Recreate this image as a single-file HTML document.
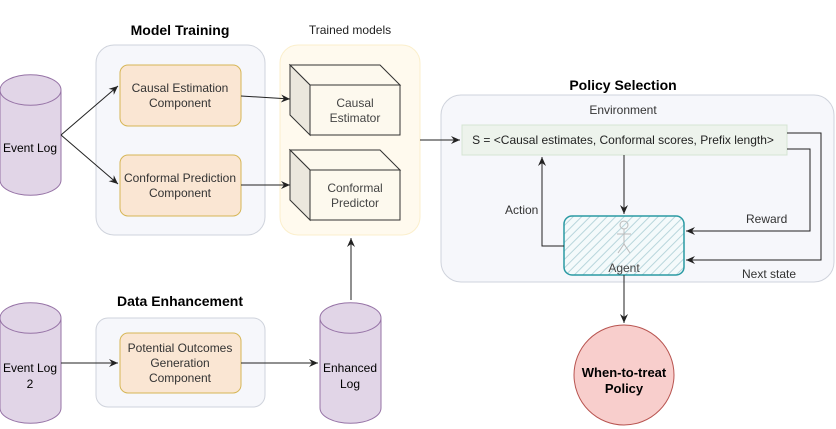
<!DOCTYPE html>
<html><head><style>body{margin:0;background:#fff}svg{display:block}text{font-family:"Liberation Sans",sans-serif}</style></head>
<body>
<svg width="836" height="429" viewBox="0 0 836 429" xmlns="http://www.w3.org/2000/svg">
<defs>
<marker id="a" markerWidth="10" markerHeight="10" refX="9" refY="5" orient="auto" markerUnits="userSpaceOnUse"><path d="M0,1 L9,5 L0,9 L3,5 z" fill="#222"/></marker>
<pattern id="h" width="6" height="6" patternUnits="userSpaceOnUse" patternTransform="rotate(45)"><rect width="6" height="6" fill="#f4fafb"/><line x1="0" y1="0" x2="0" y2="6" stroke="#b9d6dc" stroke-width="2"/></pattern>
</defs>
<!-- groups -->
<rect x="96" y="45" width="169" height="190" rx="18" fill="#f6f7fb" stroke="#cfd3dc"/>
<rect x="280" y="45" width="140" height="190" rx="18" fill="#fffaee" stroke="#fbefcc"/>
<rect x="441" y="95" width="393" height="187" rx="20" fill="#f6f7fb" stroke="#cfd3dc"/>
<rect x="96" y="318" width="169" height="89" rx="12" fill="#f6f7fb" stroke="#cfd3dc"/>
<text x="180" y="35" font-size="14" font-weight="bold" text-anchor="middle">Model Training</text>
<text x="350" y="34" font-size="12" text-anchor="middle" fill="#222">Trained models</text>
<text x="623" y="90" font-size="14" font-weight="bold" text-anchor="middle">Policy Selection</text>
<text x="180" y="306" font-size="14" font-weight="bold" text-anchor="middle">Data Enhancement</text>
<text x="623" y="114" font-size="12" text-anchor="middle" fill="#333">Environment</text>
<!-- cylinders -->
<g fill="#e1d5e7" stroke="#9673a6">
<path d="M0,90 A30,15 0 0 1 61,90 V180 A30,15 0 0 1 0,180 Z"/><path d="M0,90 A30,15 0 0 0 61,90" fill="none"/>
<path d="M0,318 A30,15 0 0 1 61,318 V408 A30,15 0 0 1 0,408 Z"/><path d="M0,318 A30,15 0 0 0 61,318" fill="none"/>
<path d="M320,318 A30,15 0 0 1 381,318 V408 A30,15 0 0 1 320,408 Z"/><path d="M320,318 A30,15 0 0 0 381,318" fill="none"/>
</g>
<text x="30" y="152" font-size="12" text-anchor="middle">Event Log</text>
<text x="30" y="372" font-size="12" text-anchor="middle">Event Log</text>
<text x="30" y="388" font-size="12" text-anchor="middle">2</text>
<text x="350" y="372" font-size="12" text-anchor="middle">Enhanced</text>
<text x="350" y="388" font-size="12" text-anchor="middle">Log</text>
<!-- orange boxes -->
<g fill="#fae6d3" stroke="#d6b656">
<rect x="120" y="65" width="121" height="61" rx="8"/>
<rect x="120" y="155" width="121" height="61" rx="8"/>
<rect x="120" y="333" width="121" height="60" rx="8"/>
</g>
<g font-size="12" text-anchor="middle" fill="#333">
<text x="180" y="92">Causal Estimation</text><text x="180" y="107">Component</text>
<text x="180" y="182">Conformal Prediction</text><text x="180" y="197">Component</text>
<text x="180" y="352">Potential Outcomes</text><text x="180" y="367">Generation</text><text x="180" y="382">Component</text>
</g>
<!-- cubes -->
<g stroke="#333" fill="#fdf9ee">
<path d="M290,65 H380 L400,85 H310 Z" fill="#fdf9ee"/><path d="M290,65 V115 L310,135 V85 Z" fill="#ebe7dd"/><rect x="310" y="85" width="90" height="50"/>
<path d="M290,150 H380 L400,170 H310 Z"/><path d="M290,150 V200 L310,220 V170 Z" fill="#ebe7dd"/><rect x="310" y="170" width="90" height="50"/>
</g>
<g font-size="12" text-anchor="middle" fill="#444">
<text x="355" y="107">Causal</text><text x="355" y="122">Estimator</text>
<text x="355" y="192">Conformal</text><text x="355" y="207">Predictor</text>
</g>
<!-- S box -->
<rect x="462" y="125" width="325" height="30" fill="#edf3ec" stroke="#d5e5d3"/>
<text x="623" y="144" font-size="12" text-anchor="middle" fill="#222">S = &lt;Causal estimates, Conformal scores, Prefix length&gt;</text>
<!-- agent -->
<rect x="564" y="216" width="120" height="59" rx="8" fill="url(#h)" stroke="#2a9aa3" stroke-width="1.5"/>
<g stroke="#bbb" fill="none"><circle cx="624" cy="225" r="4"/><path d="M624,229 V244 M617,234 H631 M624,244 L618,253 M624,244 L630,253"/></g>
<text x="624" y="272" font-size="12" text-anchor="middle" fill="#444">Agent</text>
<!-- circle -->
<circle cx="624" cy="375" r="50" fill="#f8cecc" stroke="#b85450"/>
<text x="624" y="377" font-size="13" font-weight="bold" text-anchor="middle">When-to-treat</text>
<text x="624" y="393" font-size="13" font-weight="bold" text-anchor="middle">Policy</text>
<!-- connectors -->
<g stroke="#222" fill="none" marker-end="url(#a)">
<path d="M61,135 L118,86"/><path d="M61,135 L118,184"/>
<path d="M241,96 L290,99"/><path d="M241,185 L290,185"/>
<path d="M61,363 L118,363"/><path d="M241,363 L318,363"/>
<path d="M351,300 V238"/>
<path d="M420,140 H460"/>
<path d="M624,155 V214"/>
<path d="M564,246 H542 V157"/>
<path d="M787,133 H821 V260 H686"/>
<path d="M787,149 H810 V231 H686"/>
<path d="M624,275 V323"/>
</g>
<g font-size="12" fill="#333">
<text x="505" y="214">Action</text>
<text x="746" y="223">Reward</text>
<text x="742" y="278">Next state</text>
</g>
</svg>
</body></html>
